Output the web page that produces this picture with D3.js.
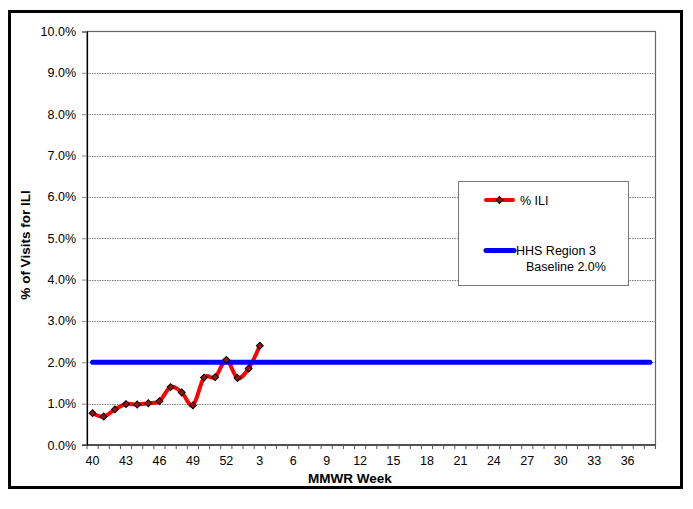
<!DOCTYPE html>
<html>
<head>
<meta charset="utf-8">
<script src="https://cdn.jsdelivr.net/npm/d3@7"></script>
<style>
  html, body { margin: 0; padding: 0; background: #fff; }
  svg text { font-family: "Liberation Sans", Arial, sans-serif; }
</style>
</head>
<body>
<svg id="chart" width="693" height="509"></svg>
<script>
// MMWR weeks, season 40 .. 52, 1 .. 38
const weeks = [40, 41, 42, 43, 44, 45, 46, 47, 48, 49, 50, 51, 52,
    1, 2, 3, 4, 5, 6, 7, 8, 9, 10, 11, 12, 13, 14, 15, 16, 17, 18, 19,
    20, 21, 22, 23, 24, 25, 26, 27, 28, 29, 30, 31, 32, 33, 34, 35, 36, 37, 38];
const tickWeeks = [40, 43, 46, 49, 52, 3, 6, 9, 12, 15, 18, 21, 24, 27, 30, 33, 36];

// % ILI reported so far (through week 3)
const iliWeeks = [40, 41, 42, 43, 44, 45, 46, 47, 48, 49, 50, 51, 52, 1, 2, 3];
const iliValues = [0.77, 0.69, 0.86, 0.99, 0.98, 1.01, 1.06, 1.40, 1.27, 0.96, 1.63, 1.64, 2.06, 1.62, 1.85, 2.40];

const baseline = 2.0;
const yTicks = [0, 1, 2, 3, 4, 5, 6, 7, 8, 9, 10];

const svg = d3.select('#chart');

// outer frame
svg.append('rect')
    .attr('x', 9.5).attr('y', 11.5).attr('width', 672).attr('height', 476)
    .attr('fill', '#fff').attr('stroke', '#000').attr('stroke-width', 3);

const plot = { left: 87, top: 31.5, right: 655.5, bottom: 445 };

const x = d3.scaleBand()
    .domain(weeks.map(String))
    .range([plot.left, plot.right]);
const y = d3.scaleLinear()
    .domain([0, 10])
    .range([plot.bottom, plot.top]);
const cx = w => x(String(w)) + x.bandwidth() / 2;

// gridlines
svg.append('g')
    .selectAll('line')
    .data(yTicks.filter(t => t > 0 && t < 10))
    .join('line')
    .attr('x1', plot.left).attr('x2', plot.right)
    .attr('y1', d => Math.round(y(d)) + 0.5).attr('y2', d => Math.round(y(d)) + 0.5)
    .attr('stroke', '#808080').attr('stroke-width', 1)
    .attr('stroke-dasharray', '1.5,1');

// plot border
svg.append('rect')
    .attr('x', plot.left).attr('y', plot.top)
    .attr('width', plot.right - plot.left).attr('height', plot.bottom - plot.top)
    .attr('fill', 'none').attr('stroke', '#666').attr('stroke-width', 1.2);

// y axis
const yAxis = svg.append('g')
    .attr('transform', `translate(${plot.left},0)`)
    .call(d3.axisLeft(y).tickValues(yTicks).tickSize(5).tickPadding(6)
        .tickFormat(d => d.toFixed(1) + '%'));
yAxis.select('.domain').attr('stroke', '#000').attr('stroke-width', 1.2);
yAxis.selectAll('.tick line').attr('stroke', '#888');
yAxis.selectAll('text').attr('font-size', 12.5).attr('fill', '#000')
    .style('font-family', '"Liberation Sans", Arial, sans-serif');

// x axis: ticks on category boundaries, labels at centers
const xg = svg.append('g');
xg.append('line')
    .attr('x1', plot.left - 5).attr('x2', plot.right)
    .attr('y1', plot.bottom).attr('y2', plot.bottom)
    .attr('stroke', '#000').attr('stroke-width', 1.2);
xg.selectAll('line.tk')
    .data(weeks)
    .join('line')
    .attr('class', 'tk')
    .attr('x1', w => x(String(w)) + x.bandwidth()).attr('x2', w => x(String(w)) + x.bandwidth())
    .attr('y1', plot.bottom).attr('y2', plot.bottom + 4)
    .attr('stroke', '#555').attr('stroke-width', 1);
xg.append('line')
    .attr('x1', plot.left).attr('x2', plot.left)
    .attr('y1', plot.bottom).attr('y2', plot.bottom + 4)
    .attr('stroke', '#555');
xg.selectAll('text')
    .data(tickWeeks)
    .join('text')
    .attr('x', w => cx(w)).attr('y', plot.bottom + 20)
    .attr('text-anchor', 'middle').attr('font-size', 12.5)
    .text(w => w);

// axis titles
svg.append('text')
    .attr('x', 350).attr('y', 482.5)
    .attr('text-anchor', 'middle')
    .attr('font-size', 13.5).attr('font-weight', 'bold')
    .text('MMWR Week');
svg.append('text')
    .attr('transform', 'translate(30,245) rotate(-90)')
    .attr('text-anchor', 'middle')
    .attr('font-size', 13.5).attr('font-weight', 'bold')
    .text('% of Visits for ILI');

// ILI series
const iliData = iliWeeks.map((w, i) => ({ w, v: iliValues[i] }));
const line = d3.line()
    .x(d => cx(d.w)).y(d => y(d.v))
    .curve(d3.curveCatmullRom.alpha(0));
svg.append('path')
    .datum(iliData)
    .attr('d', line)
    .attr('fill', 'none').attr('stroke', '#ff0000')
    .attr('stroke-width', 4).attr('stroke-linejoin', 'round').attr('stroke-linecap', 'round');

// baseline
svg.append('line')
    .attr('x1', cx(weeks[0])).attr('x2', cx(weeks[weeks.length - 1]))
    .attr('y1', y(baseline)).attr('y2', y(baseline))
    .attr('stroke', '#0000ff').attr('stroke-width', 5).attr('stroke-linecap', 'round');

// markers (square diamonds, like Excel)
const diamond = d3.symbol().type(d3.symbolSquare).size(24);
svg.append('g')
    .selectAll('path')
    .data(iliData)
    .join('path')
    .attr('transform', d => `translate(${cx(d.w)},${y(d.v)}) rotate(45)`)
    .attr('d', diamond)
    .attr('fill', '#a01010').attr('stroke', '#000').attr('stroke-width', 1);

// legend
const lg = svg.append('g');
lg.append('rect')
    .attr('x', 458.5).attr('y', 181.5).attr('width', 170).attr('height', 104)
    .attr('fill', '#fff').attr('stroke', '#777').attr('stroke-width', 1);
lg.append('line')
    .attr('x1', 486).attr('x2', 513).attr('y1', 200).attr('y2', 200)
    .attr('stroke', '#ff0000').attr('stroke-width', 4).attr('stroke-linecap', 'round');
lg.append('path')
    .attr('transform', 'translate(499.5,200) rotate(45)')
    .attr('d', diamond)
    .attr('fill', '#a01010').attr('stroke', '#000').attr('stroke-width', 1);
lg.append('text').attr('x', 520).attr('y', 204.5).attr('font-size', 12.5).text('% ILI');
lg.append('line')
    .attr('x1', 486).attr('x2', 514).attr('y1', 250.5).attr('y2', 250.5)
    .attr('stroke', '#0000ff').attr('stroke-width', 5).attr('stroke-linecap', 'round');
lg.append('text').attr('x', 516).attr('y', 255).attr('font-size', 12.5).text('HHS Region 3');
lg.append('text').attr('x', 526).attr('y', 271).attr('font-size', 12.5).text('Baseline 2.0%');
</script>
</body>
</html>
